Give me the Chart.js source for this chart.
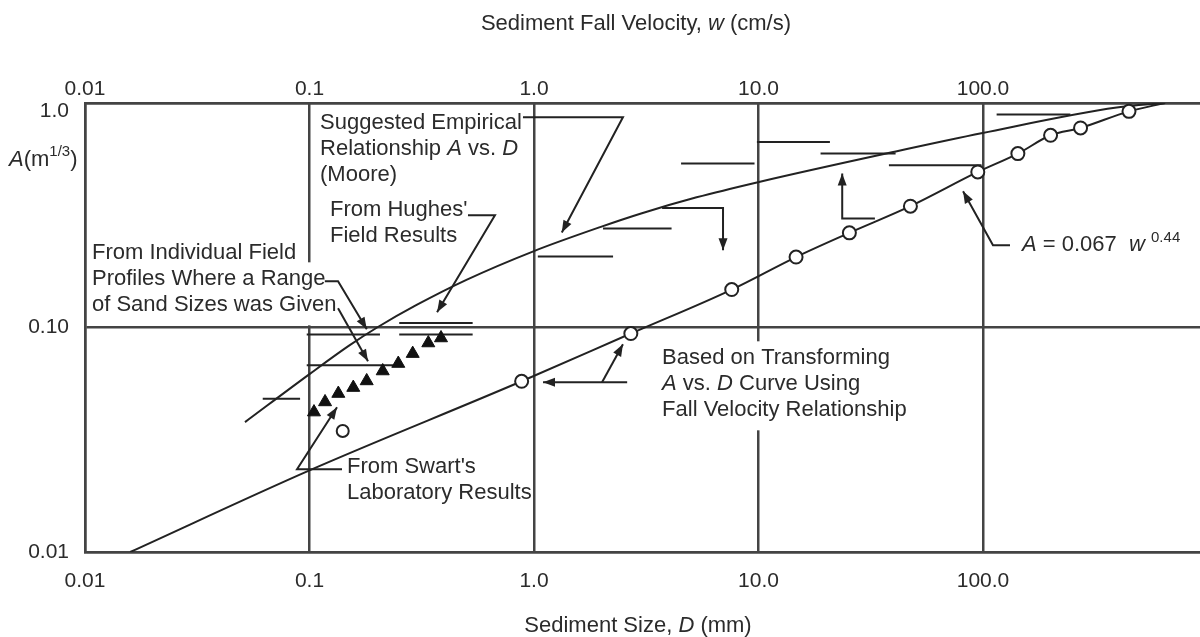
<!DOCTYPE html>
<html>
<head>
<meta charset="utf-8">
<script src="https://cdn.jsdelivr.net/npm/chart.js@4.4.1/dist/chart.umd.min.js"></script>
<style>
  html, body { margin: 0; padding: 0; background: #fff; overflow: hidden; }
  #wrap { width: 1200px; height: 637px; }
</style>
</head>
<body>
<div id="wrap"><canvas id="chart1" width="1200" height="637"></canvas></div>
<script>
// axis ticks (sediment size D in mm, A in m^1/3)
const xTickValues = [0.01, 0.1, 1, 10, 100];
const xTickLabels = ['0.01', '0.1', '1.0', '10.0', '100.0'];
const yTickValues = [0.01, 0.1, 1];
const yTickLabels = ['0.01', '0.10', '1.0'];

// suggested empirical relationship A vs. D (Moore)
const mooreD = [0.0516, 0.1, 0.15, 0.2, 0.3, 0.5, 1.0, 1.97, 3.0, 5.3, 10.05, 39.8, 99.6, 394, 647];
const mooreA = [0.0379, 0.062, 0.083, 0.1, 0.126, 0.163, 0.219, 0.28, 0.322, 0.38, 0.445, 0.605, 0.735, 0.954, 1.0];

// A = 0.067 w^0.44 transformed to D
const fallD = [0.0159, 0.1, 0.881, 2.70, 7.6, 14.7, 25.4, 47.5, 94.8, 143, 200, 272, 447, 647];
const fallA = [0.01, 0.0231, 0.0576, 0.094, 0.1476, 0.206, 0.264, 0.347, 0.493, 0.595, 0.718, 0.774, 0.918, 1.0];
const circleD = [0.881, 2.70, 7.6, 14.7, 25.4, 47.5, 94.8, 143, 200, 272, 447];
const circleA = [0.0576, 0.094, 0.1476, 0.206, 0.264, 0.347, 0.493, 0.595, 0.718, 0.774, 0.918];

// Swart's laboratory result
const swartD = [0.1406];
const swartA = [0.0346];

// field profile points
const triD = [0.1047, 0.1173, 0.1344, 0.1567, 0.1798, 0.2119, 0.2486, 0.2882, 0.3382, 0.3853];
const triA = [0.0420, 0.0466, 0.0508, 0.0540, 0.0578, 0.0640, 0.0691, 0.0765, 0.0853, 0.0898];

// field results given as a range of sand sizes
const rangeFrom = [0.0619, 0.0972, 0.0972, 0.251, 0.251, 1.04, 2.03, 4.52, 9.84, 18.9, 38.1, 115];
const rangeTo   = [0.0908, 0.24, 0.206, 0.533, 0.533, 2.25, 4.1, 9.6, 20.8, 40.8, 98.5, 245];
const rangeA    = [0.0482, 0.0679, 0.093, 0.1047, 0.093, 0.207, 0.276, 0.537, 0.67, 0.595, 0.528, 0.888];

// ranges with a bound (arrow)
const boundFrom = [3.72, 33.0];
const boundTo = [6.95, 23.6];
const boundA = [0.3405, 0.3055];
const boundArrowA = [0.221, 0.485];

const FAMILY = '"Liberation Sans", Arial, sans-serif';
const TEXT = '#2b2b2b';
const INK = '#222';
const GRID = '#444';
const FS = 22;

const pts = (xs, ys) => xs.map((x, i) => ({ x: x, y: ys[i] }));

const rangePoints = [];
rangeFrom.forEach((d, i) => {
    rangePoints.push({ x: d, y: rangeA[i] }, { x: rangeTo[i], y: rangeA[i] }, { x: rangeTo[i], y: null });
});
const boundPoints = [];
boundFrom.forEach((d, i) => {
    boundPoints.push({ x: d, y: boundA[i] }, { x: boundTo[i], y: boundA[i] },
        { x: boundTo[i], y: boundArrowA[i] }, { x: boundTo[i], y: null });
});

// annotation texts, anchored at (D, A) = left / middle of first line
const notes = [
    { at: [0.1114, 0.812], lines: [['Suggested Empirical'], ['Relationship ', { t: 'A', i: 1 }, ' vs. ', { t: 'D', i: 1 }], ['(Moore)']] },
    { at: [0.1234, 0.3327], lines: [["From Hughes'"], ['Field Results']] },
    { at: [0.01074, 0.214], bg: 1, lines: [['From Individual Field'], ['Profiles Where a Range'], ['of Sand Sizes was Given']] },
    { at: [3.72, 0.0729], bg: 1, lines: [['Based on Transforming'], [{ t: 'A', i: 1 }, ' vs. ', { t: 'D', i: 1 }, ' Curve Using'], ['Fall Velocity Relationship']] },
    { at: [149.2, 0.2324], lines: [[{ t: 'A', i: 1 }, ' = 0.067  ', { t: 'w', i: 1 }, ' ', { t: '0.44', sup: 1 }]] },
    { at: [0.1469, 0.02384], lines: [["From Swart's"], ['Laboratory Results']] }
];

// leader lines, last point carries the arrow head
const leaders = [
    [[0.893, 0.864], [2.49, 0.864], [1.33, 0.265]],
    [[0.508, 0.316], [0.670, 0.316], [0.370, 0.117]],
    [[0.117, 0.1606], [0.134, 0.1606], [0.180, 0.0982]],
    [[0.134, 0.1218], [0.1822, 0.0707]],
    [[0.1396, 0.02335], [0.088, 0.02335], [0.1326, 0.0441]],
    [[2.60, 0.057], [1.097, 0.057]],
    [[2.01, 0.057], [2.49, 0.0842]],
    [[131.9, 0.2324], [110.8, 0.2324], [81.5, 0.4044]]
];

function drawRich(ctx, x, y, runs, size) {
    let cx = x;
    for (const r of runs) {
        const run = typeof r === 'string' ? { t: r } : r;
        const fs = run.sup ? Math.round(size * 0.68) : size;
        ctx.font = (run.i ? 'italic ' : '') + fs + 'px ' + FAMILY;
        ctx.fillText(run.t, cx, y - (run.sup ? size * 0.36 : 0));
        cx += ctx.measureText(run.t).width;
    }
    return cx - x;
}

function arrowHead(ctx, x0, y0, x1, y1) {
    const a = Math.atan2(y1 - y0, x1 - x0);
    const len = 12, hw = 4.5;
    ctx.beginPath();
    ctx.moveTo(x1, y1);
    ctx.lineTo(x1 - len * Math.cos(a) + hw * Math.sin(a), y1 - len * Math.sin(a) - hw * Math.cos(a));
    ctx.lineTo(x1 - len * Math.cos(a) - hw * Math.sin(a), y1 - len * Math.sin(a) + hw * Math.cos(a));
    ctx.closePath();
    ctx.fill();
}

const notesPlugin = {
    id: 'notes',
    beforeDatasetsDraw(chart) {
        // white boxes behind some labels hide the grid lines
        const ctx = chart.ctx, sx = chart.scales.x, sy = chart.scales.y;
        ctx.save();
        ctx.textBaseline = 'middle';
        notes.filter(n => n.bg).forEach(n => {
            const x = sx.getPixelForValue(n.at[0]), y = sy.getPixelForValue(n.at[1]);
            n.lines.forEach((ln, k) => {
                ctx.globalAlpha = 0;
                const w = drawRich(ctx, x, y + k * 26, ln, FS);
                ctx.globalAlpha = 1;
                ctx.fillStyle = '#fff';
                ctx.fillRect(x - 3, y + k * 26 - 17, w + 8, 37);
            });
        });
        ctx.restore();
    },
    afterDatasetsDraw(chart) {
        const ctx = chart.ctx, sx = chart.scales.x, sy = chart.scales.y;
        const P = (p) => [sx.getPixelForValue(p[0]), sy.getPixelForValue(p[1])];
        ctx.save();
        ctx.strokeStyle = INK;
        ctx.fillStyle = INK;
        ctx.lineWidth = 2;
        leaders.concat(boundTo.map((d, i) => [[d, boundA[i]], [d, boundArrowA[i]]])).forEach((path, j) => {
            const px = path.map(P);
            if (j < leaders.length) {
                ctx.beginPath();
                px.forEach((p, k) => k ? ctx.lineTo(p[0], p[1]) : ctx.moveTo(p[0], p[1]));
                ctx.stroke();
            }
            const a = px[px.length - 2], b = px[px.length - 1];
            arrowHead(ctx, a[0], a[1], b[0], b[1]);
        });

        ctx.fillStyle = TEXT;
        ctx.textBaseline = 'middle';
        ctx.textAlign = 'left';
        notes.forEach(n => {
            const x = sx.getPixelForValue(n.at[0]), y = sy.getPixelForValue(n.at[1]);
            n.lines.forEach((ln, k) => drawRich(ctx, x, y + k * 26, ln, FS));
        });

        // axis titles
        const top = ['Sediment Fall Velocity, ', { t: 'w', i: 1 }, ' (cm/s)'];
        const bottom = ['Sediment Size, ', { t: 'D', i: 1 }, ' (mm)'];
        ctx.globalAlpha = 0;
        const wt = drawRich(ctx, 0, 0, top, FS), wb = drawRich(ctx, 0, 0, bottom, FS);
        ctx.globalAlpha = 1;
        drawRich(ctx, 636 - wt / 2, 24, top, FS);
        drawRich(ctx, 638 - wb / 2, 626, bottom, FS);
        drawRich(ctx, 9, 160, [{ t: 'A', i: 1 }, '(m', { t: '1/3', sup: 1 }, ')'], FS);
        ctx.restore();
    }
};

const tickFont = { family: FAMILY, size: 21 };
const xLabel = (v) => xTickLabels[xTickValues.indexOf(v)];
// the top label sits just below its grid line
const yLabel = (v) => v === 1 ? ['', yLabel1()] : yTickLabels[yTickValues.indexOf(v)];
const yLabel1 = () => yTickLabels[yTickValues.indexOf(1)];

const ctx = document.getElementById('chart1');
new Chart(ctx, {
    type: 'scatter',
    data: {
        datasets: [
            { data: pts(circleD, circleA), pointStyle: 'circle', pointRadius: 6.5, pointBorderWidth: 2,
              pointBackgroundColor: '#fff', pointBorderColor: INK, order: 0 },
            { data: pts(swartD, swartA), pointStyle: 'circle', pointRadius: 6, pointBorderWidth: 2,
              pointBackgroundColor: '#fff', pointBorderColor: INK, order: 0 },
            { data: pts(triD, triA), pointStyle: 'triangle', pointRadius: 7.5, pointBorderWidth: 1,
              pointBackgroundColor: '#111', pointBorderColor: '#111', order: 0 },
            { data: pts(mooreD, mooreA), showLine: true, pointRadius: 0, borderColor: INK, borderWidth: 2,
              cubicInterpolationMode: 'monotone', order: 1 },
            { data: pts(fallD, fallA), showLine: true, pointRadius: 0, borderColor: INK, borderWidth: 2,
              cubicInterpolationMode: 'monotone', order: 1 },
            { data: rangePoints, showLine: true, pointRadius: 0, borderColor: INK, borderWidth: 2, spanGaps: false, order: 1 },
            { data: boundPoints, showLine: true, pointRadius: 0, borderColor: INK, borderWidth: 2, spanGaps: false, order: 1 }
        ]
    },
    options: {
        responsive: false,
        animation: false,
        layout: { padding: 0, autoPadding: false },
        plugins: { legend: { display: false }, tooltip: { enabled: false } },
        scales: {
            x: {
                type: 'logarithmic', position: 'bottom', min: 0.01, max: 926,
                afterBuildTicks: (s) => { s.ticks = xTickValues.map(v => ({ value: v })); },
                afterFit: (s) => { s.height = 85; },
                ticks: { callback: xLabel, font: tickFont, color: TEXT, padding: 17, autoSkip: false, maxRotation: 0 },
                grid: { color: GRID, lineWidth: 2.5, drawTicks: false },
                border: { display: true, color: GRID, width: 2.5 }
            },
            x2: {
                type: 'logarithmic', position: 'top', min: 0.01, max: 926,
                afterBuildTicks: (s) => { s.ticks = xTickValues.map(v => ({ value: v })); },
                afterFit: (s) => { s.height = 103; },
                ticks: { callback: xLabel, font: tickFont, color: TEXT, padding: 1, autoSkip: false, maxRotation: 0 },
                grid: { display: false, drawTicks: false },
                border: { display: true, color: GRID, width: 2.5 }
            },
            y: {
                type: 'logarithmic', position: 'left', min: 0.01, max: 1,
                afterBuildTicks: (s) => { s.ticks = yTickValues.map(v => ({ value: v })); },
                afterFit: (s) => { s.width = 85; },
                ticks: { callback: yLabel, font: { family: FAMILY, size: 21, lineHeight: 0.76 }, color: TEXT, padding: 16 },
                grid: { color: GRID, lineWidth: 2.5, drawTicks: false },
                border: { display: true, color: GRID, width: 2.5 }
            }
        }
    },
    plugins: [notesPlugin]
});
</script>
</body>
</html>
